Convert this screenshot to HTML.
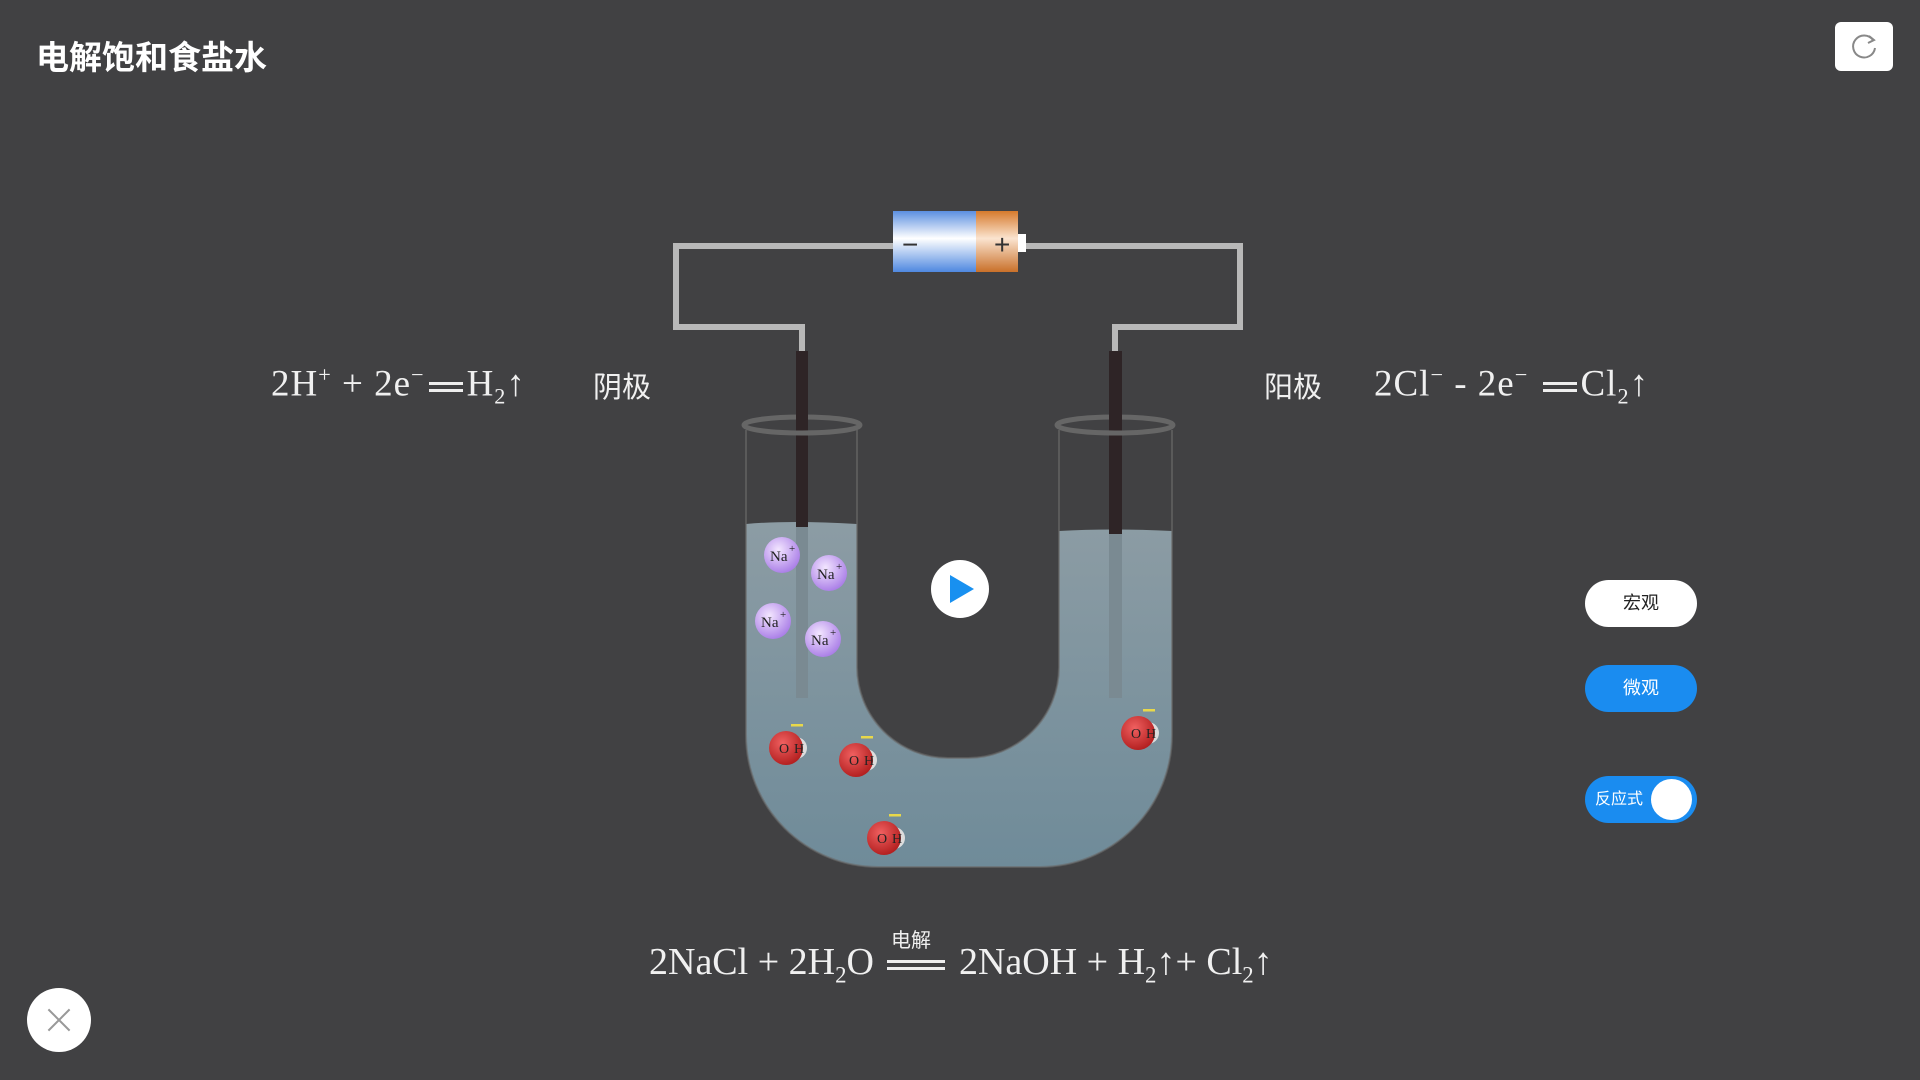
<!DOCTYPE html>
<html><head><meta charset="utf-8"><style>
body{margin:0;width:1920px;height:1080px;background:#414143;overflow:hidden;position:relative;font-family:"Liberation Sans","Noto Sans CJK SC",sans-serif;}
.a{position:absolute;white-space:nowrap;}
.eq{font-family:"Liberation Serif","Noto Serif CJK SC",serif;color:#f0f0f0;}
.cn{font-family:"Liberation Sans","Noto Sans CJK SC",sans-serif;color:#f0f0f0;}
sub,sup{font-size:60%;}
.eqs{display:inline-block;height:10px;border-top:3px solid #eee;border-bottom:3px solid #eee;vertical-align:middle;box-sizing:border-box;}
.btn{position:absolute;left:1585px;width:112px;height:47px;border-radius:24px;font-size:18px;text-align:center;line-height:47px;}
</style></head><body>
<div class="a cn" style="left:36px;top:31px;font-size:33px;font-weight:bold;color:#fff;">电解饱和食盐水</div>
<div class="a" style="left:1835px;top:22px;width:58px;height:49px;background:#fff;border-radius:6px;"></div>
<svg class="a" style="left:1849px;top:31px" width="30" height="30" viewBox="0 0 30 30"><path d="M24 9 A11 11 0 1 0 26 17" fill="none" stroke="#888" stroke-width="2"/><path d="M20 5 L25 9 L19 12" fill="none" stroke="#888" stroke-width="2"/></svg>

<svg class="a" style="left:0;top:0" width="1920" height="1080">
<defs>
<linearGradient id="bl" x1="0" y1="0" x2="0" y2="1"><stop offset="0" stop-color="#5b8fe0"/><stop offset=".45" stop-color="#fff"/><stop offset="1" stop-color="#4f88e0"/></linearGradient>
<linearGradient id="or" x1="0" y1="0" x2="0" y2="1"><stop offset="0" stop-color="#d67a2c"/><stop offset=".45" stop-color="#fbe4d0"/><stop offset="1" stop-color="#c9702a"/></linearGradient>
<linearGradient id="liq" x1="0" y1="0" x2="0" y2="1"><stop offset="0" stop-color="#8c9ca4"/><stop offset="1" stop-color="#6f8b99"/></linearGradient>
<radialGradient id="na" cx=".4" cy=".35" r=".7"><stop offset="0" stop-color="#f3e6ff"/><stop offset="1" stop-color="#a77ae6"/></radialGradient>
<radialGradient id="o" cx=".4" cy=".35" r=".7"><stop offset="0" stop-color="#f06060"/><stop offset="1" stop-color="#b01c1c"/></radialGradient>
</defs>
<polyline points="893,246 676,246 676,327 802,327 802,351" fill="none" stroke="#b8b8b8" stroke-width="6"/>
<polyline points="1018,246 1240,246 1240,327 1115,327 1115,351" fill="none" stroke="#b8b8b8" stroke-width="6"/>
<rect x="893" y="211" width="83" height="61" fill="url(#bl)"/>
<rect x="976" y="211" width="42" height="61" fill="url(#or)"/>
<rect x="1018" y="234" width="8" height="18" fill="#fff"/>
<text x="902" y="254" font-size="28" fill="#333" font-family="Liberation Sans">−</text>
<text x="994" y="254" font-size="28" fill="#333" font-family="Liberation Sans">+</text>
<path d="M746,524 Q790,520 857,524 L857,667 A91,91 0 0 0 948,758 L968,758 A91,91 0 0 0 1059,667 L1059,531 Q1110,528 1172,531 L1172,735 A132,132 0 0 1 1040,867 L878,867 A132,132 0 0 1 746,735 Z" fill="url(#liq)"/>
<path d="M746,430 L746,735 A132,132 0 0 0 878,867 L1040,867 A132,132 0 0 0 1172,735 L1172,430" fill="none" stroke="#6a6a6a" stroke-width="2" opacity=".6"/>
<path d="M857,430 L857,667 A91,91 0 0 0 948,758 L968,758 A91,91 0 0 0 1059,667 L1059,430" fill="none" stroke="#6a6a6a" stroke-width="2" opacity=".6"/>
<rect x="796" y="351" width="12" height="176" fill="#2e2426"/>
<rect x="796" y="527" width="12" height="171" fill="#7a8a92"/>
<rect x="1109" y="351" width="13" height="183" fill="#2e2426"/>
<rect x="1109" y="534" width="13" height="164" fill="#7a8a92"/>
<ellipse cx="802" cy="425" rx="58" ry="8" fill="none" stroke="#666" stroke-width="5"/>
<ellipse cx="1115" cy="425" rx="58" ry="8" fill="none" stroke="#666" stroke-width="5"/>
<rect x="796" y="410" width="12" height="20" fill="#2e2426"/>
<rect x="1109" y="410" width="13" height="20" fill="#2e2426"/>
<circle cx="960" cy="589" r="29" fill="#fff"/>
<path d="M950,575 L974,589 L950,603 Z" fill="#1890f0"/>
<g font-family="Liberation Serif" font-size="15" fill="#222">
<circle cx="782" cy="555" r="18" fill="url(#na)"/><text x="770" y="561">Na</text><text x="789" y="552" font-size="11">+</text>
<circle cx="829" cy="573" r="18" fill="url(#na)"/><text x="817" y="579">Na</text><text x="836" y="570" font-size="11">+</text>
<circle cx="773" cy="621" r="18" fill="url(#na)"/><text x="761" y="627">Na</text><text x="780" y="618" font-size="11">+</text>
<circle cx="823" cy="639" r="18" fill="url(#na)"/><text x="811" y="645">Na</text><text x="830" y="636" font-size="11">+</text>
</g>
<g font-family="Liberation Serif" font-size="14" fill="#222">
<g transform="translate(786,748)"><circle cx="10" cy="0" r="11" fill="#ddd"/><circle cx="0" cy="0" r="17" fill="url(#o)"/><text x="-7" y="5">O</text><text x="8" y="5">H</text><rect x="5" y="-24" width="12" height="2.5" fill="#e8d84a"/></g>
<g transform="translate(856,760)"><circle cx="10" cy="0" r="11" fill="#ddd"/><circle cx="0" cy="0" r="17" fill="url(#o)"/><text x="-7" y="5">O</text><text x="8" y="5">H</text><rect x="5" y="-24" width="12" height="2.5" fill="#e8d84a"/></g>
<g transform="translate(1138,733)"><circle cx="10" cy="0" r="11" fill="#ddd"/><circle cx="0" cy="0" r="17" fill="url(#o)"/><text x="-7" y="5">O</text><text x="8" y="5">H</text><rect x="5" y="-24" width="12" height="2.5" fill="#e8d84a"/></g>
<g transform="translate(884,838)"><circle cx="10" cy="0" r="11" fill="#ddd"/><circle cx="0" cy="0" r="17" fill="url(#o)"/><text x="-7" y="5">O</text><text x="8" y="5">H</text><rect x="5" y="-24" width="12" height="2.5" fill="#e8d84a"/></g>
</g>
</svg>

<div class="a eq" style="left:271px;top:362px;font-size:37px;letter-spacing:1px;">2H<sup>+</sup> + 2e<sup>−</sup><span class="eqs" style="width:34px;margin:0 4px;"></span>H<sub>2</sub>↑</div>
<div class="a cn" style="left:593px;top:364px;font-size:29px;">阴极</div>
<div class="a cn" style="left:1264px;top:364px;font-size:29px;">阳极</div>
<div class="a eq" style="left:1374px;top:362px;font-size:37px;letter-spacing:1px;">2Cl<sup>−</sup> - 2e<sup>−</sup> <span class="eqs" style="width:34px;margin:0 4px;"></span>Cl<sub>2</sub>↑</div>

<div class="a cn" style="left:891px;top:924px;font-size:20px;">电解</div>
<div class="a eq" style="left:649px;top:940px;font-size:38px;">2NaCl + 2H<sub>2</sub>O <span class="eqs" style="width:58px;margin:0 4px;"></span> 2NaOH + H<sub>2</sub>↑+ Cl<sub>2</sub>↑</div>

<div class="btn" style="top:580px;background:#fff;color:#222;">宏观</div>
<div class="btn" style="top:665px;background:#1a8cf0;color:#fff;">微观</div>
<div class="btn" style="top:776px;background:#1a8cf0;color:#fff;font-size:16px;text-align:left;padding-left:10px;box-sizing:border-box;">反应式</div>
<div class="a" style="left:1651px;top:779px;width:41px;height:41px;border-radius:50%;background:#fff;"></div>

<div class="a" style="left:27px;top:988px;width:64px;height:64px;border-radius:50%;background:#fff;"></div>
<div class="a" style="left:47px;top:1008px;width:24px;height:24px;">
<div style="position:absolute;left:11px;top:-3px;width:2px;height:30px;background:#999;transform:rotate(45deg);"></div>
<div style="position:absolute;left:11px;top:-3px;width:2px;height:30px;background:#999;transform:rotate(-45deg);"></div>
</div>
</body></html>
